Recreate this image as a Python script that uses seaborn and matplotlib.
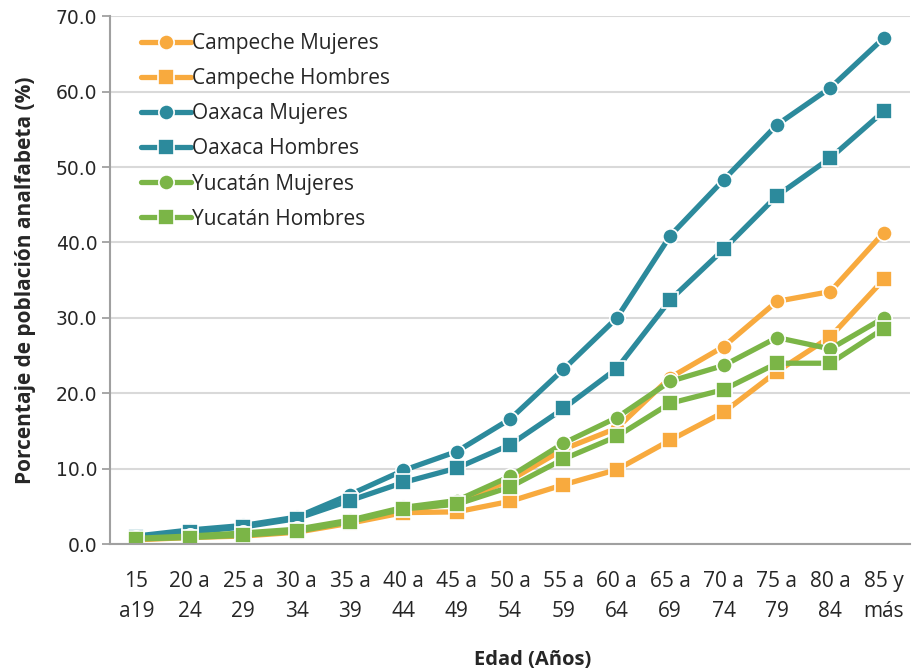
import matplotlib
matplotlib.use("Agg")
import matplotlib.pyplot as plt
import numpy as np
import pandas as pd
import seaborn as sns

# Age groups (x axis)
edades = ["15\na19", "20 a\n24", "25 a\n29", "30 a\n34", "35 a\n39", "40 a\n44",
          "45 a\n49", "50 a\n54", "55 a\n59", "60 a\n64", "65 a\n69", "70 a\n74",
          "75 a\n79", "80 a\n84", "85 y\nmás"]

# Illiteracy percentage by state and sex
campeche_mujeres = [0.7, 1.0, 1.3, 1.9, 3.0, 4.4, 5.5, 8.5, 12.6, 15.4, 22.1, 26.2, 32.2, 33.5, 41.3]
campeche_hombres = [0.6, 0.9, 1.1, 1.6, 2.8, 4.2, 4.3, 5.7, 7.9, 9.9, 13.8, 17.5, 22.9, 27.5, 35.1]
oaxaca_mujeres = [1.1, 1.9, 2.5, 3.6, 6.6, 9.8, 12.3, 16.6, 23.2, 30.0, 40.9, 48.3, 55.6, 60.5, 67.1]
oaxaca_hombres = [1.0, 1.6, 2.3, 3.4, 5.8, 8.2, 10.1, 13.2, 18.0, 23.3, 32.4, 39.1, 46.2, 51.2, 57.4]
yucatan_mujeres = [0.8, 1.1, 1.5, 2.0, 3.2, 4.9, 5.8, 9.0, 13.4, 16.8, 21.6, 23.7, 27.4, 25.9, 30.0]
yucatan_hombres = [0.7, 0.9, 1.2, 1.7, 3.0, 4.7, 5.3, 7.6, 11.3, 14.3, 18.7, 20.5, 24.0, 24.0, 28.6]

series = {
    "Campeche Mujeres": campeche_mujeres,
    "Campeche Hombres": campeche_hombres,
    "Oaxaca Mujeres": oaxaca_mujeres,
    "Oaxaca Hombres": oaxaca_hombres,
    "Yucatán Mujeres": yucatan_mujeres,
    "Yucatán Hombres": yucatan_hombres,
}

naranja = "#F8AA3E"
azul = "#2C8A9C"
verde = "#7BB547"
colores = [naranja, naranja, azul, azul, verde, verde]
marcadores = ["o", "s", "o", "s", "o", "s"]

df = pd.concat(
    [pd.DataFrame({"pos": np.arange(len(edades)), "valor": v, "serie": k})
     for k, v in series.items()],
    ignore_index=True)

sns.set_style("white")
plt.rcParams["font.family"] = ["Open Sans", "DejaVu Sans"]

fig = plt.figure(figsize=(9.15, 6.72), dpi=100)
ax = fig.add_axes([0.120, 0.190, 0.875, 0.786])

# draw each series so that Yucatán ends up on top
for (nombre, grupo), c, m in zip(df.groupby("serie", sort=False), colores, marcadores):
    sns.lineplot(data=grupo, x="pos", y="valor", ax=ax, color=c, marker=m,
                 markersize=11, markeredgecolor="white", markeredgewidth=1.2,
                 linewidth=3.8, label=nombre)

# axes limits and grid
ax.set_xlim(-0.5, len(edades) - 0.5)
ax.set_ylim(0, 70)
ax.set_yticks(np.arange(0, 71, 10))
ax.set_yticklabels([f"{t:.1f}" for t in np.arange(0, 71, 10)],
                   fontfamily="DejaVu Sans", fontsize=13.5)
ax.yaxis.grid(True, color="#D9D9D9", linewidth=1.5)
ax.set_axisbelow(True)

# categories centred, tick marks between them
ax.set_xticks(np.arange(len(edades)))
ax.set_xticklabels(edades, fontsize=15, linespacing=1.55)
ax.set_xticks(np.arange(-0.5, len(edades)), minor=True)
ax.tick_params(axis="x", which="major", length=0, pad=19)
ax.tick_params(axis="x", which="minor", length=6, width=1.3, color="#A0A0A0")
ax.tick_params(axis="y", length=6, width=1.3, color="#A0A0A0", pad=3,
               left=True)

for s in ["top", "right"]:
    ax.spines[s].set_visible(False)
for s in ["left", "bottom"]:
    ax.spines[s].set_color("#A0A0A0")
    ax.spines[s].set_linewidth(1.5)

ax.set_xlabel("Edad (Años)", fontsize=14.5, fontweight="bold")
ax.xaxis.set_label_coords(0.528, -0.200)
ax.set_ylabel("Porcentaje de población analfabeta (%)", fontsize=15,
              fontweight="bold", labelpad=14)

leg = ax.legend(loc="upper left", bbox_to_anchor=(0.028, 0.984), frameon=False,
                fontsize=15, handlelength=2.4, handletextpad=0.05,
                labelspacing=0.68, borderaxespad=0)

fig.savefig("out.png", dpi=100)
